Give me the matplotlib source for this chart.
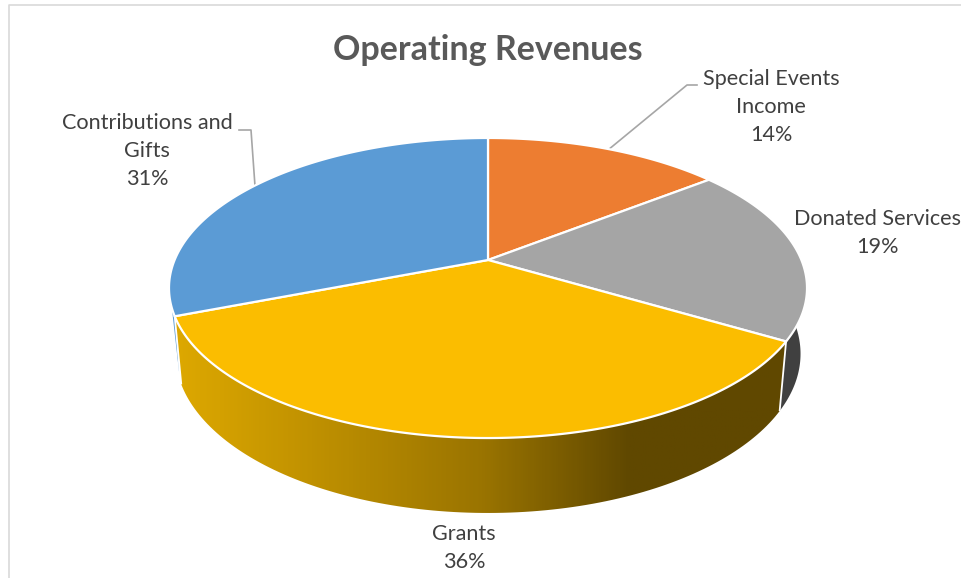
import numpy as np
import matplotlib
matplotlib.use('Agg')
import matplotlib.pyplot as plt
from matplotlib.colors import LinearSegmentedColormap
from matplotlib.patches import Polygon

plt.rcParams['font.family'] = ['Lato', 'DejaVu Sans']

# clockwise from 12 o'clock
categories = ['Special Events\nIncome', 'Donated Services', 'Grants', 'Contributions and\nGifts']
shares = [14.4, 19.1, 35.6, 30.9]
top_colors = ['#ED7D31', '#A5A5A5', '#FBBD00', '#5B9BD5']
side_colors = ['#A85820', '#404040', None, '#5B9BD5']

W, H = 961, 578

# projection of the tilted disc onto the picture, in pixels
APEX_X, APEX_Y = 488, 260
RX, RY, PERSP = 313.4, 144.8, 0.1867
DEPTH, DEPTH_PERSP = 66, -0.02


def project(theta, low=False):
    sx, sy = np.sin(theta), np.cos(theta)
    w = 1 + PERSP * sy + (-DEPTH_PERSP if low else 0)
    x = RX * sx / w
    u = (RY * sy - (DEPTH if low else 0)) / w
    return APEX_X + x, APEX_Y - u


def rim_side(t0, t1, n=120):
    th = np.linspace(t0, t1, n)
    xt, yt = project(th)
    xb, yb = project(th, low=True)
    return np.column_stack([np.r_[xt, xb[::-1]], np.r_[yt, yb[::-1]]])


fig = plt.figure(figsize=(W / 100, H / 100), dpi=100)
ax = fig.add_axes([0, 0, 1, 1])
ax.set_xlim(0, W)
ax.set_ylim(H, 0)
ax.axis('off')

# chart frame
ax.plot([9, 9, W], [H, 5, 5], color='#D9D9D9', lw=1.2)

edges = np.r_[0, np.cumsum(shares)] / sum(shares) * 2 * np.pi

# sides, back ones first
ax.add_patch(Polygon(rim_side(np.radians(80), edges[2]), closed=True, fc=side_colors[1], ec='none', zorder=2))

# the blue side only shows as a thin sliver next to the grants side
blue_th = edges[3] + np.radians([0, 6, 12])
blue_x, blue_y = project(blue_th)
low_x, low_y = project(edges[3] + np.radians(1), low=True)
ax.add_patch(Polygon(np.column_stack([np.r_[blue_x, low_x - 1], np.r_[blue_y, low_y - 8]]),
                     closed=True, fc=side_colors[3], ec='none', zorder=2))

grants_side = Polygon(rim_side(edges[2], edges[3]), closed=True, fc='none', ec='none', zorder=3)
ax.add_patch(grants_side)
grad_cmap = LinearSegmentedColormap.from_list(
    'grants', [(0, '#DDA800'), (0.25, '#BC8E00'), (0.5, '#9A7400'), (0.74, '#604800'), (1, '#604800')])
img = ax.imshow(np.linspace(0, 1, 300)[None, :], cmap=grad_cmap, extent=[175, 790, 520, 300],
                aspect='auto', zorder=3)
img.set_clip_path(grants_side)
ax.set_xlim(0, W)
ax.set_ylim(H, 0)

# thin white edges on the side faces
for t in (edges[2], edges[3]):
    x0, y0 = project(t)
    x1, y1 = project(t, low=True)
    ax.plot([x0, x1], [y0, y1], color='white', lw=1.3, zorder=4, solid_capstyle='butt')

# top face
for i, c in enumerate(top_colors):
    th = np.linspace(edges[i], edges[i + 1], 160)
    x, y = project(th)
    pts = np.column_stack([np.r_[APEX_X, x], np.r_[APEX_Y, y]])
    ax.add_patch(Polygon(pts, closed=True, fc=c, ec='white', lw=1.6, joinstyle='round', zorder=5))

# leader lines
ax.plot([608, 687, 697], [150, 85, 85], color='#A6A6A6', lw=1.2, zorder=4)
ax.plot([239, 251, 255], [130, 130, 186], color='#A6A6A6', lw=1.2, zorder=4)

# text
ax.text(488, 50, 'Operating Revenues', ha='center', va='center', fontsize=24.5,
        fontweight='bold', color='#595959')
label_pos = [(771, 107), (877, 233), (464, 548), (147, 151)]
for name, share, (lx, ly) in zip(categories, shares, label_pos):
    ax.text(lx, ly, f'{name}\n{round(share)}%', ha='center', va='center', fontsize=15.6,
            color='#404040', linespacing=1.5, multialignment='center')

fig.savefig('out.png', dpi=100)
